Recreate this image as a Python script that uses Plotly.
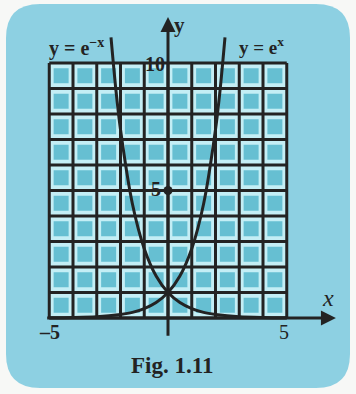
import plotly.graph_objects as go

# ---- data ----
x_ticks = [-5, -4, -3, -2, -1, 0, 1, 2, 3, 4, 5]
y_ticks = [0, 1, 2, 3, 4, 5, 6, 7, 8, 9, 10]

exp_x = [-5, -4, -3, -2, -1.5, -1, -0.5, 0, 0.5, 1, 1.5, 2, 2.2, 2.4]
exp_y = [0.01, 0.02, 0.05, 0.14, 0.22, 0.37, 0.61, 1.0, 1.65, 2.72, 4.48, 7.39, 9.0, 11.0]

nexp_x = [-2.4, -2.2, -2, -1.5, -1, -0.5, 0, 0.5, 1, 1.5, 2, 3, 4, 5]
nexp_y = [11.0, 9.0, 7.39, 4.48, 2.72, 1.65, 1.0, 0.61, 0.37, 0.22, 0.14, 0.05, 0.02, 0.01]

marked_point = (0, 5)

# ---- styling ----
W, H = 356, 394
INK = "#232323"
PANEL = "#8dd0e2"
CELL_RING = "#c4eef5"
CELL_CORE = "#66bfd2"
SERIF = "Liberation Serif"

X_RANGE = [-7.074, 7.916]
Y_RANGE = [-2.98, 12.47]

fig = go.Figure()

# cell cores (teal squares in every grid cell)
cx, cy = [], []
for i in range(len(x_ticks) - 1):
    for j in range(len(y_ticks) - 1):
        cx.append((x_ticks[i] + x_ticks[i + 1]) / 2)
        cy.append((y_ticks[j] + y_ticks[j + 1]) / 2)
fig.add_trace(go.Scatter(x=cx, y=cy, mode="markers",
                         marker=dict(symbol="square", size=15, color=CELL_CORE,
                                     line=dict(width=0)),
                         hoverinfo="skip", showlegend=False))

# grid lines
gx, gy = [], []
for xv in x_ticks:
    gx += [xv, xv, None]
    gy += [y_ticks[0], y_ticks[-1], None]
for yv in y_ticks:
    gx += [x_ticks[0], x_ticks[-1], None]
    gy += [yv, yv, None]
fig.add_trace(go.Scatter(x=gx, y=gy, mode="lines",
                         line=dict(color=INK, width=3),
                         hoverinfo="skip", showlegend=False))

# curves
fig.add_trace(go.Scatter(x=exp_x, y=exp_y, mode="lines",
                         line=dict(color=INK, width=3, shape="spline", smoothing=0.8),
                         showlegend=False))
fig.add_trace(go.Scatter(x=nexp_x, y=nexp_y, mode="lines",
                         line=dict(color=INK, width=3, shape="spline", smoothing=0.8),
                         showlegend=False))

# marked point on y axis
fig.add_trace(go.Scatter(x=[marked_point[0]], y=[marked_point[1]], mode="markers",
                         marker=dict(size=9, color=INK), showlegend=False))


def rounded_rect(x0, y0, x1, y1, r):
    # pixel coords -> paper coords
    def P(px, py):
        return f"{px / W:.5f},{1 - py / H:.5f}"
    return (f"M {P(x0 + r, y0)} L {P(x1 - r, y0)} Q {P(x1, y0)} {P(x1, y0 + r)} "
            f"L {P(x1, y1 - r)} Q {P(x1, y1)} {P(x1 - r, y1)} "
            f"L {P(x0 + r, y1)} Q {P(x0, y1)} {P(x0, y1 - r)} "
            f"L {P(x0, y0 + r)} Q {P(x0, y0)} {P(x0 + r, y0)} Z")


shapes = [
    dict(type="path", xref="paper", yref="paper", layer="below",
         path=rounded_rect(6, 4, 350, 388, 34),
         fillcolor=PANEL, line=dict(width=0)),
    dict(type="rect", xref="x", yref="y", layer="below",
         x0=x_ticks[0], x1=x_ticks[-1], y0=y_ticks[0], y1=y_ticks[-1],
         fillcolor=CELL_RING, line=dict(width=0)),
]

annotations = [
    # x axis arrow
    dict(x=7.07, y=0, ax=-5.15, ay=0, xref="x", yref="y", axref="x", ayref="y",
         text="", showarrow=True, arrowhead=2, arrowsize=1, arrowwidth=3,
         arrowcolor=INK),
    # y axis arrow
    dict(x=0, y=11.8, ax=0, ay=-0.75, xref="x", yref="y", axref="x", ayref="y",
         text="", showarrow=True, arrowhead=2, arrowsize=1, arrowwidth=3,
         arrowcolor=INK),
    dict(x=0.5, y=11.5, xref="x", yref="y", text="<b>y</b>", showarrow=False,
         font=dict(family=SERIF, size=21, color=INK)),
    dict(x=6.75, y=0.8, xref="x", yref="y", text="<i>x</i>", showarrow=False,
         font=dict(family=SERIF, size=24, color=INK)),
    dict(x=-5, y=-0.55, xref="x", yref="y", text="<b>\u20135</b>", showarrow=False,
         font=dict(family=SERIF, size=20, color=INK)),
    dict(x=4.9, y=-0.55, xref="x", yref="y", text="5", showarrow=False,
         font=dict(family=SERIF, size=20, color=INK)),
    dict(x=-0.5, y=5.05, xref="x", yref="y", text="<b>5</b>", showarrow=False,
         font=dict(family=SERIF, size=20, color=INK)),
    dict(x=-0.55, y=9.95, xref="x", yref="y", text="<b>10</b>", showarrow=False,
         font=dict(family=SERIF, size=20, color=INK)),
    dict(x=-3.85, y=10.6, xref="x", yref="y", text="<b>y = e<sup>\u2212x</sup></b>",
         showarrow=False, font=dict(family=SERIF, size=20, color=INK)),
    dict(x=3.95, y=10.65, xref="x", yref="y", text="<b>y = e<sup>x</sup></b>",
         showarrow=False, font=dict(family=SERIF, size=19, color=INK)),
    dict(x=0.17, y=-1.88, xref="x", yref="y", text="<b>Fig. 1.11</b>", showarrow=False,
         font=dict(family=SERIF, size=23, color=INK)),
]

fig.update_layout(
    width=W, height=H, margin=dict(l=0, r=0, t=0, b=0),
    paper_bgcolor="#f7f8f6", plot_bgcolor="rgba(0,0,0,0)",
    shapes=shapes, annotations=annotations, showlegend=False,
    xaxis=dict(range=X_RANGE, visible=False, fixedrange=True),
    yaxis=dict(range=Y_RANGE, visible=False, fixedrange=True),
)

fig.write_html("out.html", config={"displayModeBar": False},
               post_script="document.body.style.margin='0';document.body.style.background='#f7f8f6';")
